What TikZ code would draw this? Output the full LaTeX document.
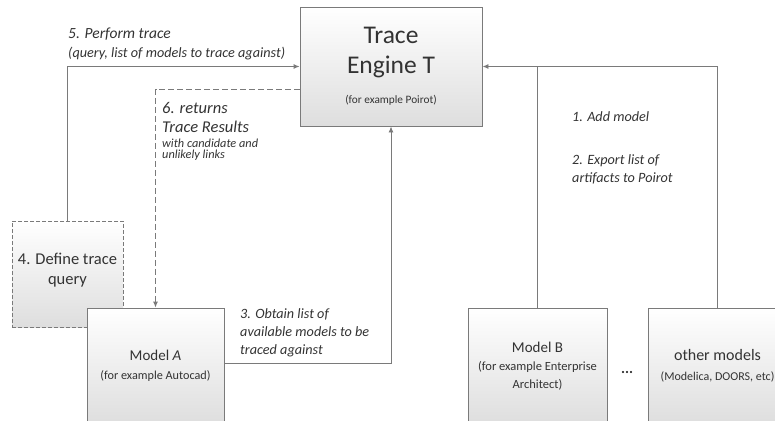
\documentclass[tikz,border=0pt]{standalone}
\usepackage{fontspec}
\setmainfont{Carlito}
\usetikzlibrary{arrows.meta}
\definecolor{linegray}{HTML}{7A7A7A}
\definecolor{textgray}{HTML}{333333}
\newcommand{\fs}[2]{\fontsize{#1}{#2}\selectfont}
\tikzset{
  box/.style={draw=linegray, line width=0.9pt, top color=white, bottom color=black!13,
    inner sep=2pt, align=center, text=textgray},
  note/.style={align=left, anchor=west, inner sep=0pt, text=textgray,
    font=\fs{14.2}{18}\itshape},
  line/.style={draw=linegray, line width=0.9pt},
  arrow/.style={line, -{Latex[length=6pt,width=5pt]}},
  dline/.style={arrow, dash pattern=on 6pt off 3pt}
}
\begin{document}
\begin{tikzpicture}[x=1pt,y=-1pt]
  \useasboundingbox (0,0) rectangle (775,420);
  \clip (0,0) rectangle (775,420);
  % boxes
  \node[box, minimum width=182pt, minimum height=119pt, font=\fs{25.5}{30}] (engine) at (391,66.5)
    {Trace\\Engine T\\{\fs{11.3}{13}(for example Poirot)}};
  \node[box, dash pattern=on 4pt off 2pt, minimum width=111pt, minimum height=106pt,
    font=\fs{16.5}{20}] (query) at (67.5,274)
    {4. Define trace\\query\\[-10pt]\mbox{}};
  \node[box, minimum width=137pt, minimum height=116pt, font=\fs{15}{19}] (modela) at (155.5,366)
    {Model \textit{A}\\{\fs{12.2}{14}(for example Autocad)}};
  \node[box, minimum width=139pt, minimum height=116pt, font=\fs{15}{18}] (modelb) at (537.5,366)
    {Model B\\{\fs{12.5}{14}(for example Enterprise}\\{\fs{12.5}{14}Architect)}};
  \node[box, minimum width=139pt, minimum height=116pt, font=\fs{16}{20}] (other) at (717.5,366)
    {other models\\{\fs{12}{14}(Modelica, DOORS, etc)}};
  \node[text=textgray, font=\fs{15}{15}\bfseries] (dots) at (627,372) {...};
  % labels
  \node[note, font=\fs{15.5}{19}\itshape] (perform) at (68,43.5)
    {5. Perform trace\\{\fs{14.2}{16}(query, list of models to trace against)}};
  \node[note, anchor=north west, font=\fs{16.5}{19.5}\itshape] (returns) at (162,102)
    {6. returns\\Trace Results\\[-5pt]{\fs{12.3}{14}with candidate and}\\[-8pt]
     {\fs{12.3}{14}unlikely links}};
  \node[note] (obtain) at (240,333) {3. Obtain list of\\available models to be\\traced against};
  \node[note] (add) at (572,117) {1. Add model};
  \node[note] (export) at (572,169) {2. Export list of\\artifacts to Poirot};
  % connectors
  \draw[arrow] (query.north) |- (engine.west);
  \draw[dline] ([yshift=-22.5pt]engine.west) -| (modela.north);
  \draw[arrow] ([yshift=-56pt]modela.north east) -| (engine.south);
  \draw[arrow] (other.north) |- (engine.east);
  \draw[line] (modelb.north) -- (modelb.north |- engine.east);
\end{tikzpicture}
\end{document}
